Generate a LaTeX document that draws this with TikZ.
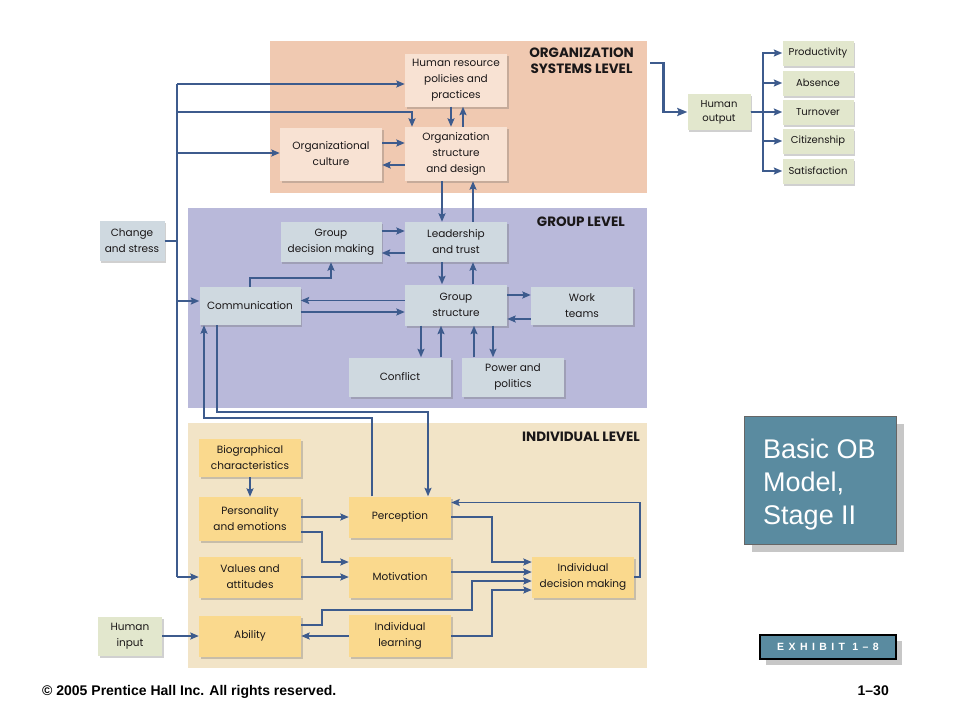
\documentclass[tikz,border=0pt]{standalone}
\usepackage{fontspec}
\setmainfont{Poppins}
\newfontfamily\arialfont{Liberation Sans}
\usetikzlibrary{arrows.meta,shadows,calc}
\definecolor{orgbgc}{HTML}{F0C9B1}
\definecolor{orgbox}{HTML}{F8E2D3}
\definecolor{grpbgc}{HTML}{B9B9DA}
\definecolor{grpbox}{HTML}{CFD9E0}
\definecolor{indbgc}{HTML}{F2E4C7}
\definecolor{indbox}{HTML}{FAD98D}
\definecolor{grnbox}{HTML}{E2E7CD}
\definecolor{arrc}{HTML}{3D5B8D}
\definecolor{obfill}{HTML}{5A8BA0}
\definecolor{textc}{HTML}{1A1718}
\begin{document}
\begin{tikzpicture}[x=1pt,y=-1pt,
  box/.style={inner sep=1pt, align=center, font=\fontsize{10.5}{16}\selectfont, text=textc,
    drop shadow={shadow xshift=1.5pt, shadow yshift=-2pt, opacity=0.3, fill=black!60}},
  obox/.style={box, fill=orgbox, minimum width=102, minimum height=53},
  gbox/.style={box, fill=grpbox, minimum width=102, minimum height=40},
  ibox/.style={box, fill=indbox, minimum width=102, minimum height=41},
  hbox/.style={box, fill=grnbox},
  outbox/.style={box, fill=grnbox, minimum width=71, minimum height=25, font=\fontsize{10}{12}\selectfont},
  panel/.style={inner sep=0, anchor=north west},
  lvl/.style={font=\fontsize{13.5}{16}\selectfont\bfseries, text=textc, align=center, inner sep=0},
  conn/.style={draw=arrc, line width=1.7pt, -{Stealth[length=8.5pt,width=7pt,inset=1.5pt]}},
  plain/.style={draw=arrc, line width=1.7pt}]
\useasboundingbox (0,0) rectangle (960,720);
\fill[white] (0,0) rectangle (960,720);

% panels
\node[panel, fill=orgbgc, minimum width=377, minimum height=152] (orgbg) at (270,41) {};
\node[panel, fill=grpbgc, minimum width=459, minimum height=200] (grpbg) at (188,208) {};
\node[panel, fill=indbgc, minimum width=459, minimum height=245] (indbg) at (188,423) {};

\node[lvl, anchor=north east] (t1) at (634,48) {ORGANIZATION\\SYSTEMS LEVEL};
\node[lvl, anchor=east] (t2) at (625,222) {GROUP LEVEL};
\node[lvl, anchor=east] (t3) at (640,437) {INDIVIDUAL LEVEL};

% organization level
\node[obox] (hr) at (456,80) {Human resource\\policies and\\practices};
\node[obox, minimum height=54] (orgs) at (456,154) {Organization\\structure\\and design};
\node[obox] (cult) at (331,154) {Organizational\\culture};

% group level
\node[gbox, minimum width=101] (gdm) at (331,242) {Group\\decision making};
\node[gbox] (lead) at (456,242) {Leadership\\and trust};
\node[gbox, minimum width=101, minimum height=38] (comm) at (250,306) {Communication};
\node[gbox, minimum height=41] (gstr) at (456,305) {Group\\structure};
\node[gbox, minimum height=38] (work) at (582,306) {Work\\teams};
\node[gbox, minimum height=39] (confl) at (400,377) {Conflict};
\node[gbox, minimum height=39] (power) at (513,377) {Power and\\politics};

% individual level
\node[ibox, minimum height=38] (bio) at (250,458) {Biographical\\characteristics};
\node[ibox, minimum height=44] (pers) at (250,519) {Personality\\and emotions};
\node[ibox] (perc) at (400,517) {Perception};
\node[ibox] (val) at (250,577) {Values and\\attitudes};
\node[ibox] (motiv) at (400,577) {Motivation};
\node[ibox] (idm) at (583,577) {Individual\\decision making};
\node[ibox] (abil) at (250,636) {Ability};
\node[ibox, minimum height=42] (learn) at (400,636) {Individual\\learning};

% outside boxes
\node[hbox, fill=grpbox, minimum width=65, minimum height=40] (chg) at (132,241) {Change\\and stress};
\node[hbox, minimum width=64, minimum height=39] (hin) at (130,636) {Human\\input};
\node[hbox, minimum width=63, minimum height=36, font=\fontsize{10}{14}\selectfont] (hout) at (719,112) {Human\\output};
\node[outbox] (o1) at (818,53) {Productivity};
\node[outbox] (o2) at (818,83) {Absence};
\node[outbox] (o3) at (818,112) {Turnover};
\node[outbox] (o4) at (818,141) {Citizenship};
\node[outbox] (o5) at (818,171) {Satisfaction};

% change bus
\coordinate (busA) at (177,84);
\coordinate (busB) at (177,112);
\coordinate (busC) at (177,153);
\coordinate (busD) at (177,301);
\coordinate (busE) at (177,577);
\draw[plain] (chg.east) -- (chg.east -| busA);
\draw[plain] (busA) -- (busE);
\draw[conn] (busA) -- (busA -| hr.west);
\draw[conn] (busB) -| ([xshift=-44pt]orgs.north);
\draw[conn] (busC) -- (busC -| cult.west);
\draw[conn] (busD) -- (busD -| comm.west);
\draw[conn] (busE) -- (val.west);

% org level arrows
\draw[conn] ([xshift=-5pt]hr.south) -- ([xshift=-5pt]orgs.north);
\draw[conn] ([xshift=7pt]orgs.north) -- ([xshift=7pt]hr.south);
\draw[conn] ([yshift=11pt]cult.east) -- ([yshift=11pt]cult.east -| orgs.west);
\draw[conn] ([yshift=-11pt]orgs.west) -- ([yshift=-11pt]orgs.west -| cult.east);
\draw[conn] ([xshift=-14pt]orgs.south) -- ([xshift=-14pt]lead.north);
\draw[conn] ([xshift=17pt]lead.north) -- ([xshift=17pt]orgs.south);

% human output
\draw[draw=arrc, line width=2.8pt, -{Stealth[length=10pt,width=8pt,inset=1.5pt]}]
  ([xshift=3pt,yshift=-22pt]orgbg.north east) -- ++(13,0) |- (hout.west);
\draw[conn] (hout.east) -- ++(12,0) |- (o1.west);
\draw[conn] (hout.east) -- ++(12,0) |- (o2.west);
\draw[conn] (hout.east) -- ++(12,0) |- (o3.west);
\draw[conn] (hout.east) -- ++(12,0) |- (o4.west);
\draw[conn] (hout.east) -- ++(12,0) |- (o5.west);

% group level arrows
\draw[conn] ([yshift=11pt]gdm.east) -- ([yshift=11pt]gdm.east -| lead.west);
\draw[conn] ([yshift=-11pt]lead.west) -- ([yshift=-11pt]lead.west -| gdm.east);
\draw[conn] ([xshift=-14pt]lead.south) -- ([xshift=-14pt]gstr.north);
\draw[conn] ([xshift=17pt]gstr.north) -- ([xshift=17pt]lead.south);
\draw[conn] ([yshift=4.5pt]gstr.west) -- ([yshift=4.5pt]gstr.west -| comm.east);
\draw[conn] ([yshift=-6pt]comm.east) -- ([yshift=-6pt]comm.east -| gstr.west);
\draw[conn] (comm.north) |- ($(gdm.south)+(0,16)$) -- (gdm.south);
\draw[conn] ([yshift=10pt]gstr.east) -- ([yshift=10pt]gstr.east -| work.west);
\draw[conn] ([yshift=-13pt]work.west) -- ([yshift=-13pt]work.west -| gstr.east);
\draw[conn] ([xshift=-35pt]gstr.south) -- ([xshift=-35pt]gstr.south |- confl.north);
\draw[conn] ([xshift=-15pt]gstr.south |- confl.north) -- ([xshift=-15pt]gstr.south);
\draw[conn] ([xshift=18pt]gstr.south |- power.north) -- ([xshift=18pt]gstr.south);
\draw[conn] ([xshift=37pt]gstr.south) -- ([xshift=37pt]gstr.south |- power.north);

% between communication and perception
\draw[conn] ([xshift=-28pt]perc.north) |- ([xshift=-46pt,yshift=-93pt]comm.south) -- ([xshift=-46pt]comm.south);
\draw[conn] ([xshift=-33pt]comm.south) |- ([xshift=28pt,yshift=84pt]perc.north) -- ([xshift=28pt]perc.north);

% individual level arrows
\draw[conn] (bio.south) -- (pers.north);
\draw[conn] ([yshift=2pt]pers.east) -- ([yshift=2pt]pers.east -| perc.west);
\draw[conn] ([yshift=-13pt]pers.east) -- ++(21,0) |- ([yshift=15pt]motiv.west);
\draw[conn] (val.east) -- (motiv.west);
\draw[conn] (hin.east) -- (abil.west);
\draw[conn] (learn.west) -- (abil.east);
\draw[conn] (perc.east) -- ++(41,0) |- ([yshift=15pt]idm.west);
\draw[conn, line width=2.3pt] ([yshift=5pt]motiv.east) -- ([yshift=5pt]motiv.east -| idm.west);
\draw[conn] ([yshift=11pt]abil.east) -- ++(21,0) -- ++(0,-15) -- ++(150,0) |- ([yshift=-4pt]idm.west);
\draw[conn] (learn.east) -- ++(41,0) |- ([yshift=-13pt]idm.west);
\draw[conn] (idm.east) -- ++(6,0) |- ([yshift=14.5pt]perc.east);

% title box
\node[panel, draw=black!60, fill=obfill, minimum width=152, minimum height=128,
  drop shadow={shadow xshift=8pt, shadow yshift=-8pt, fill=black!22, opacity=1}] (obbox) at (744,416) {};
\node[anchor=north west, inner sep=0, text=white, align=left,
  font=\arialfont\fontsize{27}{33}\selectfont] (obtxt) at (763,439) {Basic OB\\Model,\\Stage II};

\node[draw=black, line width=1.2pt, fill=obfill, minimum width=136, minimum height=24, inner sep=0,
  text=white, font=\arialfont\bfseries\fontsize{10.5}{12}\selectfont\addfontfeature{LetterSpace=42},
  drop shadow={shadow xshift=6pt, shadow yshift=-6pt, fill=black!22, opacity=1}] (exh) at (828,647) {EXHIBIT 1–8};

% footer
\node[anchor=base west, inner sep=0, font=\arialfont\bfseries\fontsize{14}{15}\selectfont] (copy) at (42,695) {© 2005 Prentice Hall Inc. All rights reserved.};
\node[anchor=base east, inner sep=0, font=\arialfont\bfseries\fontsize{14}{15}\selectfont] (pg) at (889,695) {1–30};
\end{tikzpicture}
\end{document}
